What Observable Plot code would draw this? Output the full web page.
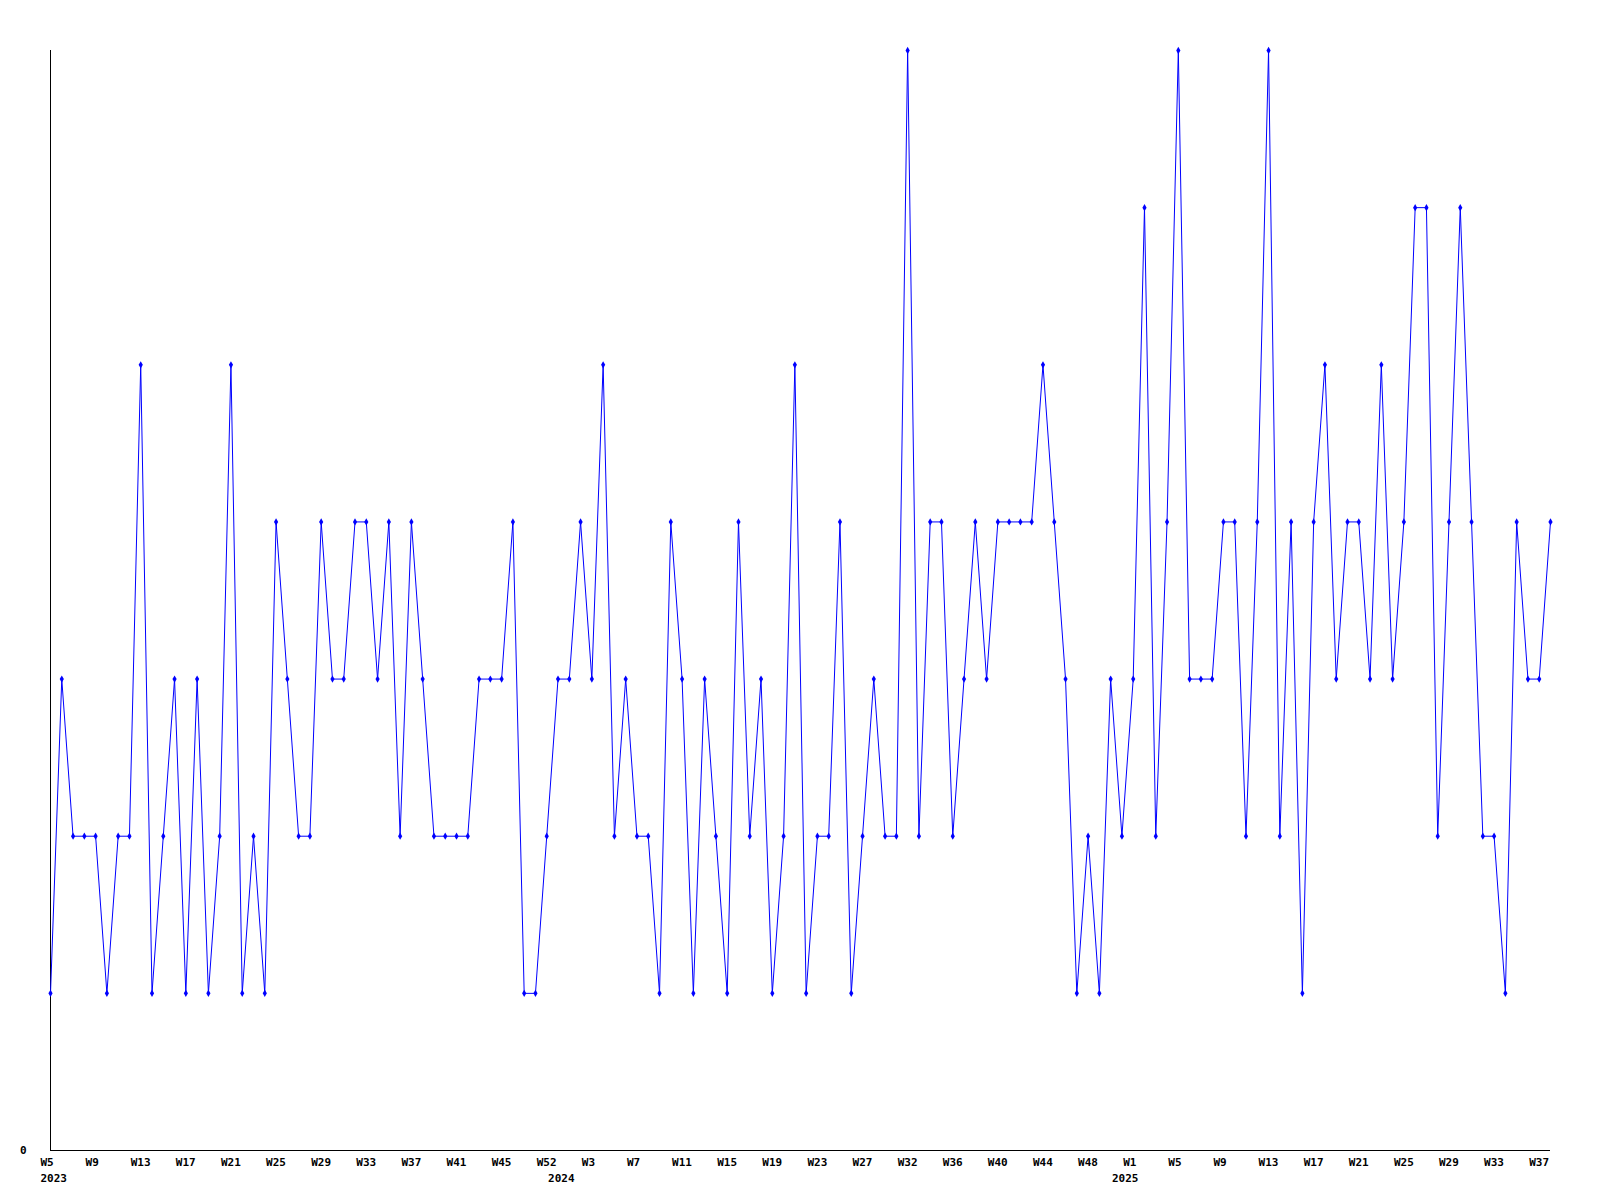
<!DOCTYPE html>
<html><head><meta charset="utf-8">
<script src="https://cdn.jsdelivr.net/npm/d3@7"></script>
<script src="https://cdn.jsdelivr.net/npm/@observablehq/plot@0.6"></script>
<style>body{margin:0;background:#fff}</style>
</head><body><div id="chart"></div>
<script>
// Week numbers that carry data, per year (weeks without data are absent)
const weeks2023 = [5,6,7,8,9,10,11,12,13,14,15,16,17,18,19,20,21,22,23,24,25,26,27,28,29,30,31,32,33,34,35,36,37,38,39,40,41,42,43,44,45,46,47,49,52];
const weeks2024 = [0,1,2,3,4,5,6,7,8,9,10,11,12,13,14,15,16,17,18,19,20,21,22,23,24,25,26,27,28,29,31,32,33,34,35,36,37,38,39,40,41,42,43,44,45,46,47,48,49,51];
const weeks2025 = [0,1,2,3,4,5,6,7,8,9,10,11,12,13,14,15,16,17,18,19,20,21,22,23,24,25,26,27,28,29,30,31,32,33,34,35,36,37,38];
const years = [2023, 2024, 2025];

// Weekly counts, in order
const values = [
  1,3,2,2,2,1,2,2,5,1, 2,3,1,3,1,2,5,1,2,1, 4,3,2,2,4,3,3,4,4,3, 4,2,4,3,2,2,
  2,2,3,3,3,4,1,1,2,3, 3,4,3,5,2,3,2,2,1,4, 3,1,3,2,1,4,2,3,1,2, 5,1,2,2,4,1,
  2,3,2,2,7,2,4,4,2,3, 4,3,4,4,4,4,5,4,3,1, 2,1,3,2,3,6,2,4,7,3, 3,3,4,4,2,4,7,
  2,4,1,4,5,3,4,4,3,5, 3,4,6,6,2,4,6,4,2,2, 1,4,3,3,4
];
const yTickValues = [0];

const weekLists = [weeks2023, weeks2024, weeks2025];
const rows = [];
years.forEach((yr, j) => {
  weekLists[j].forEach((w, k) => {
    rows.push({year: yr, week: w, key: yr + "-W" + String(w).padStart(2, "0"), first: k === 0});
  });
});
rows.forEach((d, i) => { d.value = values[i]; d.i = i; });
const keys = rows.map(d => d.key);

const font = "'DejaVu Sans Mono', 'Liberation Mono', monospace";

const chart = Plot.plot({
  width: 1600,
  height: 1200,
  marginLeft: 50,
  marginRight: 50,
  marginTop: 50,
  marginBottom: 50,
  style: {fontFamily: font, fontSize: "11px", background: "#fff", overflow: "visible"},
  x: {type: "point", domain: keys, padding: 0, axis: null},
  y: {domain: [0, 7], axis: null},
  marks: [
    Plot.ruleY(yTickValues, {stroke: "#000", strokeWidth: 1}),
    Plot.ruleX([keys[0]], {y1: () => 0, y2: () => 7, stroke: "#000", strokeWidth: 1}),
    Plot.line(rows, {x: "key", y: "value", stroke: "#0000ff", strokeWidth: 1}),
    Plot.dot(rows, {x: "key", y: "value", symbol: "diamond", r: 2.2, fill: "#0000ff", stroke: "none"}),
    Plot.text(rows.filter(d => d.i % 4 === 0), {
      x: "key", y: () => 0, text: d => "W" + d.week,
      textAnchor: "start", dx: -10, dy: 12, fontWeight: "bold", fill: "#000", fontSize: 11
    }),
    Plot.text(rows.filter(d => d.first), {
      x: "key", y: () => 0, text: d => String(d.year),
      textAnchor: "start", dx: -10, dy: 27.5, fontWeight: "bold", fill: "#000", fontSize: 11
    }),
    Plot.text(yTickValues, {
      x: () => keys[0], y: d => d, text: d => String(d),
      textAnchor: "end", dx: -24, fontWeight: "bold", fill: "#000", fontSize: 11
    })
  ]
});
document.getElementById("chart").appendChild(chart);
</script>
</body></html>
